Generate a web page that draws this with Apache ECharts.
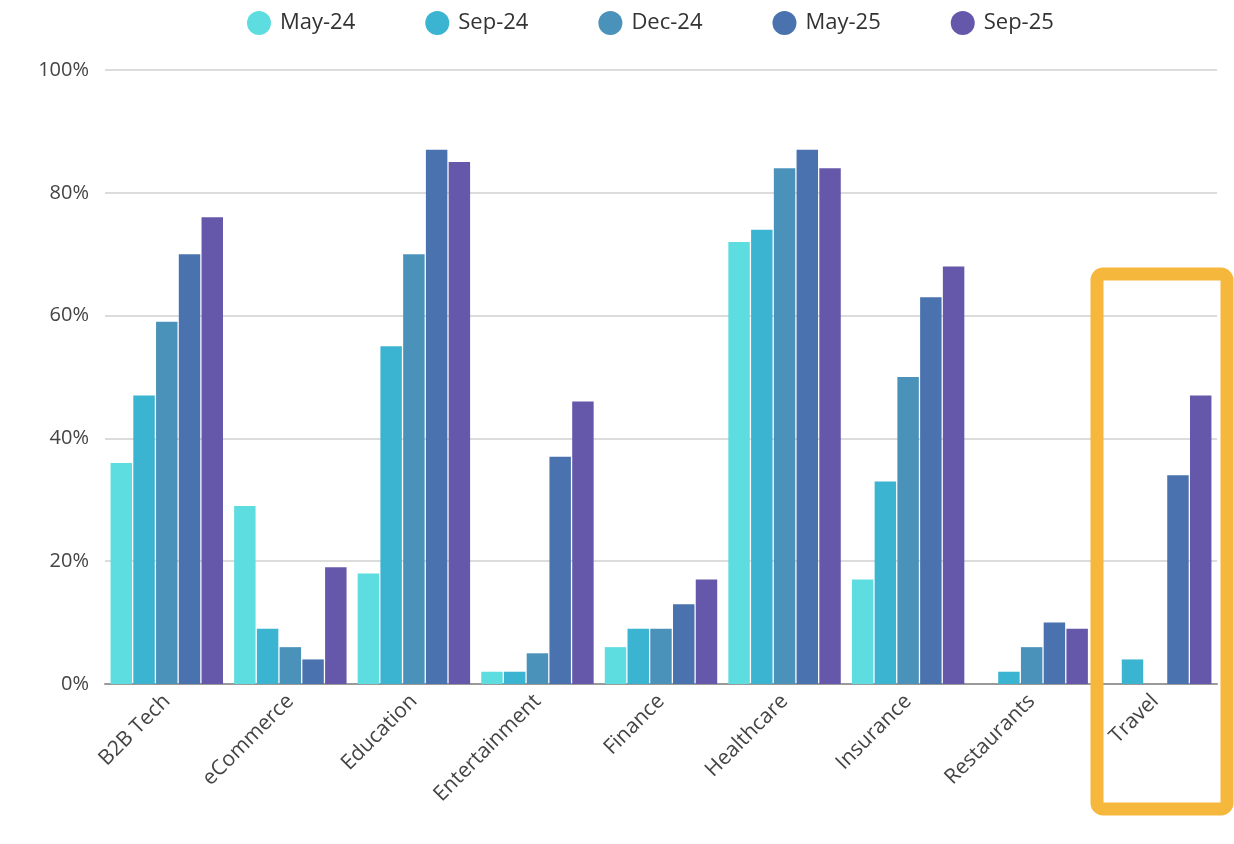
<!DOCTYPE html>
<html>
<head>
<meta charset="utf-8">
<script src="https://cdn.jsdelivr.net/npm/echarts@6/dist/echarts.min.js"></script>
<style>
  html, body { margin: 0; padding: 0; background: #fff; }
  #chart { width: 1234px; height: 844px; }
</style>
</head>
<body>
<div id="chart"></div>
<script>
// 行业分类
const categories = ['B2B Tech', 'eCommerce', 'Education', 'Entertainment', 'Finance', 'Healthcare', 'Insurance', 'Restaurants', 'Travel'];
const seriesNames = ['May-24', 'Sep-24', 'Dec-24', 'May-25', 'Sep-25'];

// 各期数值（%）
const may24 = [36, 29, 18, 2, 6, 72, 17, 0, 0];
const sep24 = [47, 9, 55, 2, 9, 74, 33, 2, 4];
const dec24 = [59, 6, 70, 5, 9, 84, 50, 6, 0];
const may25 = [70, 4, 87, 37, 13, 87, 63, 10, 34];
const sep25 = [76, 19, 85, 46, 17, 84, 68, 9, 47];

const colors = ['#5edde0', '#3bb4d2', '#4b92ba', '#4a72ae', '#6558aa'];
const values = [may24, sep24, dec24, may25, sep25];

const chart = echarts.init(document.getElementById('chart'));

chart.setOption({
  animation: false,
  legend: {
    data: seriesNames,
    top: 6,
    left: 242,
    icon: 'circle',
    itemWidth: 24,
    itemHeight: 24,
    itemGap: 70,
    textStyle: { fontSize: 22, color: '#333', fontFamily: 'Open Sans', padding: [0, 0, 0, 4] }
  },
  grid: { left: 105, right: 17, top: 70, bottom: 160 },
  xAxis: {
    type: 'category',
    data: categories,
    axisTick: { show: false },
    axisLine: { lineStyle: { color: '#9a9a9a', width: 2 } },
    axisLabel: { rotate: 45, fontSize: 21, color: '#444', fontFamily: 'Open Sans', margin: 14, interval: 0 }
  },
  yAxis: {
    type: 'value',
    min: 0,
    max: 100,
    interval: 20,
    axisLine: { show: false },
    axisTick: { show: false },
    splitLine: { lineStyle: { color: '#dcdcdc', width: 2 } },
    axisLabel: { formatter: '{value}%', fontSize: 20, color: '#444', fontFamily: 'Open Sans', margin: 16 }
  },
  series: seriesNames.map((name, i) => ({
    name,
    type: 'bar',
    data: values[i],
    barGap: '6%',
    barCategoryGap: '9%',
    itemStyle: { color: colors[i] }
  })),
  graphic: [{
    type: 'rect',
    shape: { x: 1097, y: 274, width: 130, height: 535, r: 6 },
    style: { fill: 'none', stroke: '#f5b83d', lineWidth: 13 },
    z: 100
  }]
});
</script>
</body>
</html>
